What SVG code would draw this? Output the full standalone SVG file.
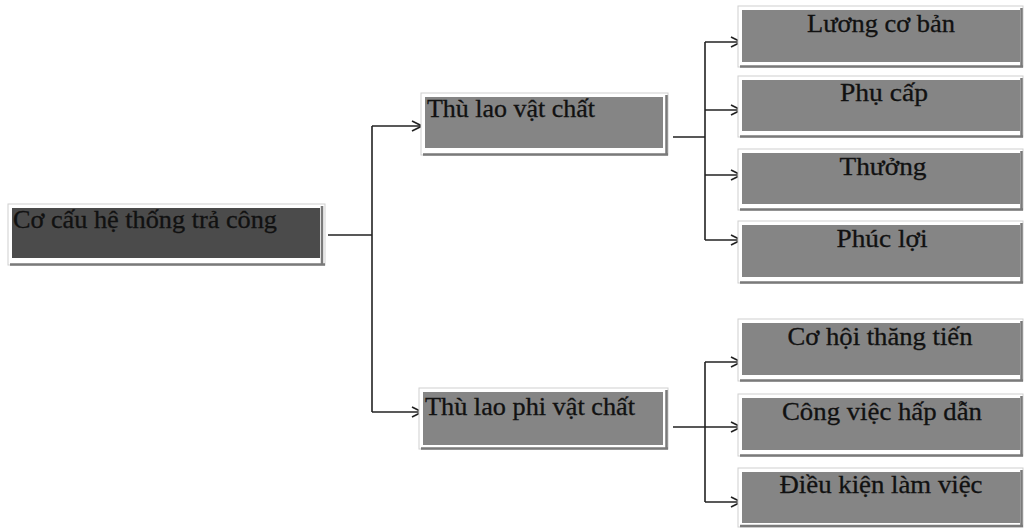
<svg xmlns="http://www.w3.org/2000/svg" width="1025" height="528" viewBox="0 0 1025 528">
<style>
.frame{fill:#ffffff;stroke:#cfcfcf;stroke-width:1}
.dark{fill:#4b4b4b}
.mid{fill:#858585}
.edge{stroke:#7a7a7a;stroke-width:2.5;fill:none}
.conn{stroke:#222;stroke-width:1.6;fill:none}
.t{font-family:"Liberation Serif","Times New Roman",serif;font-size:25px;fill:#111;stroke:#111;stroke-width:0.3}
.c{text-anchor:middle}
</style>
<defs>
<marker id="arr" viewBox="0 0 12 12" refX="11" refY="6" markerWidth="12" markerHeight="12" markerUnits="userSpaceOnUse" orient="auto">
<path d="M1,1 L11,6 L1,11" fill="none" stroke="#222" stroke-width="1.6"/>
</marker>
</defs>
<rect width="1025" height="528" fill="#ffffff"/>
<g id="connectors">
<path class="conn" d="M328,235 H372 M372,126 V412"/>
<path class="conn" d="M372,126 H422" marker-end="url(#arr)"/>
<path class="conn" d="M372,412 H422" marker-end="url(#arr)"/>
<path class="conn" d="M673,137 H705 M705,42 V240"/>
<path class="conn" d="M705,42 H741" marker-end="url(#arr)"/>
<path class="conn" d="M705,110 H741" marker-end="url(#arr)"/>
<path class="conn" d="M705,175 H741" marker-end="url(#arr)"/>
<path class="conn" d="M705,240 H741" marker-end="url(#arr)"/>
<path class="conn" d="M673,427 H705 M705,362 V502"/>
<path class="conn" d="M705,362 H741" marker-end="url(#arr)"/>
<path class="conn" d="M705,427 H741" marker-end="url(#arr)"/>
<path class="conn" d="M705,502 H741" marker-end="url(#arr)"/>
</g>
<g id="root">
<rect class="frame" x="8" y="204" width="317" height="61"/>
<rect class="dark" x="12" y="208" width="308" height="50"/>
<path class="edge" d="M322,206 V265 M10,264.5 H325"/>
<text class="t" x="13" y="228" font-size="24" textLength="264" lengthAdjust="spacingAndGlyphs">Cơ cấu hệ thống trả công</text>
</g>
<g id="vatchat">
<rect class="frame" x="421" y="93" width="247" height="62"/>
<rect class="mid" x="425" y="97" width="238" height="51"/>
<path class="edge" d="M666.5,95 V155 M423,154.5 H668"/>
<text class="t" x="427" y="117" textLength="168" lengthAdjust="spacingAndGlyphs">Thù lao vật chất</text>
</g>
<g id="phivatchat">
<rect class="frame" x="419" y="388" width="249" height="61"/>
<rect class="mid" x="423" y="392" width="240" height="53"/>
<path class="edge" d="M666.5,390 V449 M421,448.5 H668"/>
<text class="t" x="425" y="415" textLength="210" lengthAdjust="spacingAndGlyphs">Thù lao phi vật chất</text>
</g>
<g id="luongcoban">
<rect class="frame" x="738" y="6" width="285" height="61"/>
<rect class="mid" x="742" y="10" width="278" height="52"/>
<path class="edge" d="M1021.5,8 V67 M740,66.5 H1023"/>
<text class="t c" x="881" y="32" textLength="148" lengthAdjust="spacingAndGlyphs">Lương cơ bản</text>
</g>
<g id="phucap">
<rect class="frame" x="738" y="76" width="285" height="61"/>
<rect class="mid" x="742" y="80" width="278" height="51"/>
<path class="edge" d="M1021.5,78 V137 M740,136.5 H1023"/>
<text class="t c" x="884" y="101" textLength="88" lengthAdjust="spacingAndGlyphs">Phụ cấp</text>
</g>
<g id="thuong">
<rect class="frame" x="738" y="149" width="285" height="61"/>
<rect class="mid" x="742" y="153" width="278" height="51"/>
<path class="edge" d="M1021.5,151 V210 M740,209.5 H1023"/>
<text class="t c" x="883" y="175" textLength="87" lengthAdjust="spacingAndGlyphs">Thưởng</text>
</g>
<g id="phucloi">
<rect class="frame" x="738" y="221" width="285" height="62"/>
<rect class="mid" x="742" y="225" width="278" height="52"/>
<path class="edge" d="M1021.5,223 V283 M740,282.5 H1023"/>
<text class="t c" x="882" y="247" textLength="91" lengthAdjust="spacingAndGlyphs">Phúc lợi</text>
</g>
<g id="cohoi">
<rect class="frame" x="738" y="319" width="285" height="62"/>
<rect class="mid" x="742" y="323" width="278" height="52"/>
<path class="edge" d="M1021.5,321 V381 M740,380.5 H1023"/>
<text class="t c" x="880" y="345" textLength="185" lengthAdjust="spacingAndGlyphs">Cơ hội thăng tiến</text>
</g>
<g id="congviec">
<rect class="frame" x="738" y="394" width="285" height="62"/>
<rect class="mid" x="742" y="398" width="278" height="52"/>
<path class="edge" d="M1021.5,396 V456 M740,455.5 H1023"/>
<text class="t c" x="882" y="420" textLength="200" lengthAdjust="spacingAndGlyphs">Công việc hấp dẫn</text>
</g>
<g id="dieukien">
<rect class="frame" x="738" y="468" width="285" height="59"/>
<rect class="mid" x="742" y="472" width="278" height="51"/>
<path class="edge" d="M1021.5,470 V527 M740,526 H1023"/>
<text class="t c" x="881" y="493" textLength="203" lengthAdjust="spacingAndGlyphs">Điều kiện làm việc</text>
</g>
</svg>
